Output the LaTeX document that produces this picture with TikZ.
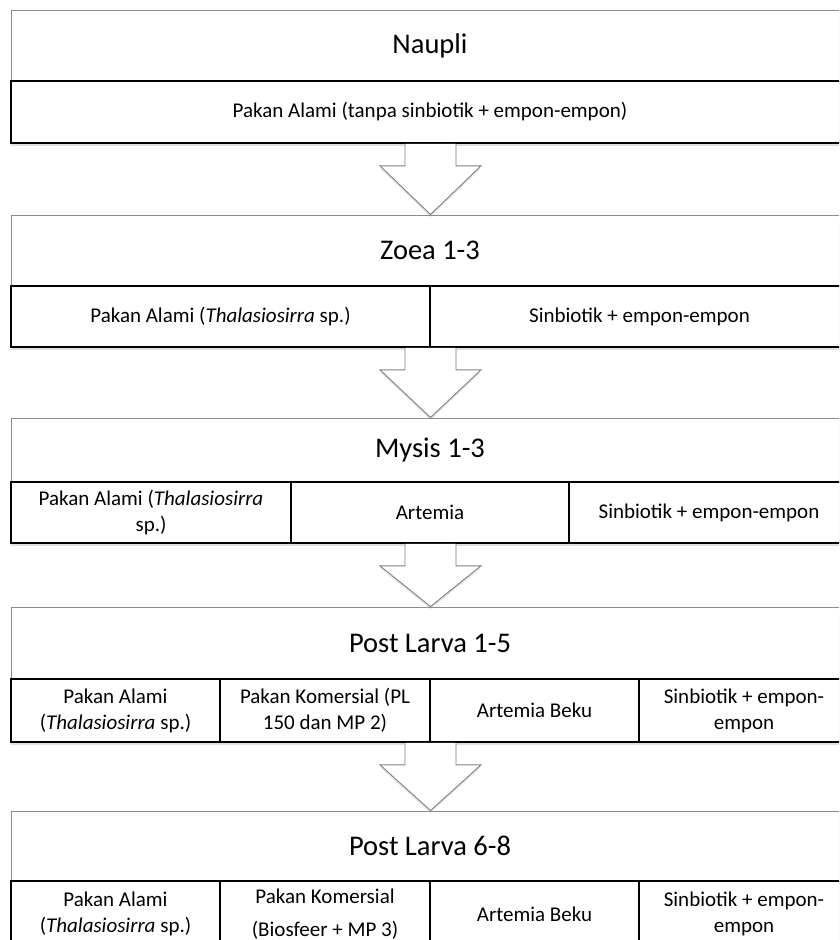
\documentclass[tikz,border=0pt]{standalone}
\usepackage{fontspec}
\setmainfont{Carlito}
\usetikzlibrary{shadows}

\begin{document}
\begin{tikzpicture}[x=1pt, y=-1pt]
		\tikzset{ttl/.style={draw=black!45, line width=0.9pt, fill=white, minimum width=838pt, inner sep=0pt,
				drop shadow={shadow xshift=0pt, shadow yshift=-2.5pt, opacity=0.25},
				font=\fontsize{28.5}{34}\selectfont}};
		\tikzset{cell/.style={draw=black, line width=1.7pt, fill=white, inner sep=0pt, align=center,
				drop shadow={shadow xshift=0pt, shadow yshift=-3pt, opacity=0.25},
				font=\fontsize{21}{26}\selectfont}};
		\tikzset{arw/.style={draw=black!50, line width=0.9pt, fill=white,
				drop shadow={shadow xshift=0pt, shadow yshift=-2.5pt, opacity=0.2}}};

		\useasboundingbox (0,0) rectangle (839,940);
		\clip (0,0) rectangle (839,940);
		\fill[white] (0,0) rectangle (839,940);

		% Naupli
		\node[ttl, minimum height=71pt] (naupli) at (430,45.5) {Naupli};
		\node[cell, minimum width=838pt, minimum height=62pt] (n1) at (430,112) {Pakan Alami (tanpa sinbiotik + empon-empon)};

		% Zoea
		\node[ttl, minimum height=71pt] (zoea) at (430,250.5) {Zoea 1-3};
		\node[cell, minimum width=419pt, minimum height=61pt] (z1) at (220.5,316.5) {Pakan Alami (\textit{Thalasiosirra} sp.)};
		\node[cell, minimum width=419pt, minimum height=61pt] (z2) at (639.5,316.5) {Sinbiotik + empon-empon};

		% Mysis
		\node[ttl, minimum height=64pt] (mysis) at (430,450) {Mysis 1-3};
		\node[cell, minimum width=280pt, minimum height=61pt] (m1) at (151,512.5) {Pakan Alami (\textit{Thalasiosirra}\\sp.)};
		\node[cell, minimum width=278pt, minimum height=61pt] (m2) at (430,512.5) {Artemia};
		\node[cell, minimum width=280pt, minimum height=61pt] (m3) at (709,512.5) {Sinbiotik + empon-empon};

		% Post Larva 1-5
		\node[ttl, minimum height=72pt] (pla) at (430,643) {Post Larva 1-5};
		\node[cell, minimum width=209pt, minimum height=63pt] (pa1) at (115.5,710.5) {Pakan Alami\\(\textit{Thalasiosirra} sp.)};
		\node[cell, minimum width=210pt, minimum height=63pt] (pa2) at (325,710.5) {Pakan Komersial (PL\\150 dan MP 2)};
		\node[cell, minimum width=209pt, minimum height=63pt] (pa3) at (534.5,710.5) {Artemia Beku};
		\node[cell, minimum width=210pt, minimum height=63pt] (pa4) at (744,710.5) {Sinbiotik + empon-\\empon};

		% Post Larva 6-8
		\node[ttl, minimum height=70pt] (plb) at (430,846) {Post Larva 6-8};
		\node[cell, minimum width=209pt, minimum height=66pt] (pb1) at (115.5,914) {Pakan Alami\\(\textit{Thalasiosirra} sp.)};
		\node[cell, minimum width=210pt, minimum height=66pt] (pb2) at (325,914) {Pakan Komersial\\[7pt](Biosfeer + MP 3)};
		\node[cell, minimum width=209pt, minimum height=66pt] (pb3) at (534.5,914) {Artemia Beku};
		\node[cell, minimum width=210pt, minimum height=66pt] (pb4) at (744,914) {Sinbiotik + empon-\\empon};

		% block arrows between the stages
		\foreach \from/\to in {n1/zoea, z1/mysis, m1/pla, pa1/plb} {
			\coordinate (s) at (430.5,0 |- \from.south);
			\coordinate (t) at (430.5,0 |- \to.north);
			\draw[arw] ([xshift=-25.5pt]s) -- ([xshift=-25.5pt, yshift=-22pt]s) -- ([xshift=-50.5pt, yshift=-22pt]s)
				-- (t) -- ([xshift=50.5pt, yshift=-22pt]s) -- ([xshift=25.5pt, yshift=-22pt]s) -- ([xshift=25.5pt]s);
		}

	\end{tikzpicture}
\end{document}
